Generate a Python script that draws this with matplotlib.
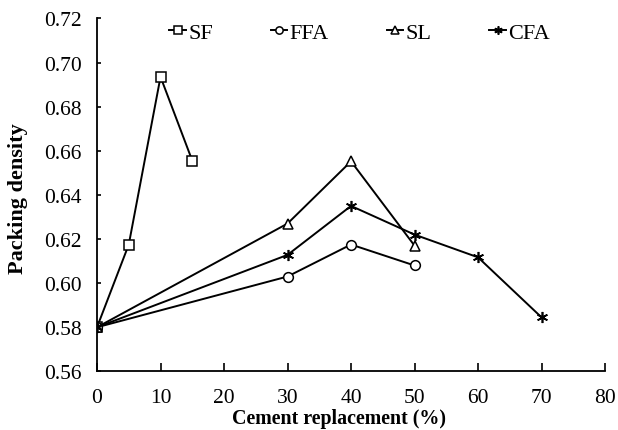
import matplotlib
matplotlib.use('Agg')
import matplotlib.pyplot as plt

# --- DATA ---
sf_x = [0, 5, 10, 15]
sf_y = [0.580, 0.6175, 0.6935, 0.6555]
ffa_x = [0, 30, 40, 50]
ffa_y = [0.580, 0.603, 0.6175, 0.608]
sl_x = [0, 30, 40, 50]
sl_y = [0.580, 0.627, 0.6552, 0.617]
cfa_x = [0, 30, 40, 50, 60, 70]
cfa_y = [0.580, 0.6128, 0.635, 0.622, 0.6117, 0.5845]

plt.rcParams['font.family'] = ['Liberation Serif', 'DejaVu Serif']

fig = plt.figure(figsize=(6.18, 4.31), dpi=100)
ax = fig.add_axes([0.157, 0.136, 0.822, 0.819])

style = dict(color='black', linewidth=1.4, markersize=7, markerfacecolor='white',
             markeredgecolor='black', markeredgewidth=1.1)
ax.plot(sf_x, sf_y, marker='s', label='SF', **style)
ax.plot(ffa_x, ffa_y, marker='o', label='FFA', **style)
ax.plot(sl_x, sl_y, marker='^', label='SL', **style)
ax.plot(cfa_x, cfa_y, marker=(6, 2, 0), label='CFA', color='black', linewidth=1.4,
        markersize=8, markeredgewidth=1.2)

ax.set_xlim(0, 80)
ax.set_ylim(0.56, 0.72)
ax.set_xticks(range(0, 81, 10))
ax.set_yticks([0.56, 0.58, 0.60, 0.62, 0.64, 0.66, 0.68, 0.70, 0.72])
ax.set_yticklabels(['%.2f' % v for v in ax.get_yticks()])

ax.spines['top'].set_visible(False)
ax.spines['right'].set_visible(False)
ax.spines['left'].set_linewidth(1.3)
ax.spines['bottom'].set_linewidth(1.3)
ax.tick_params(axis='both', direction='in', labelsize=15.5, width=1.2)
ax.tick_params(axis='x', length=6, pad=12)
ax.tick_params(axis='y', length=3, pad=11)

ax.set_xlabel('Cement replacement (%)', fontsize=14.4, fontweight='bold')
ax.set_ylabel('Packing density', fontsize=16, fontweight='bold')
ax.xaxis.set_label_coords(0.477, -0.105)
ax.yaxis.set_label_coords(-0.135, 0.493)

ax.legend(loc='upper center', bbox_to_anchor=(0.517, 1.045), ncol=4, frameon=False,
          fontsize=16, handlelength=0.75, handletextpad=0.1, columnspacing=2.6,
          markerscale=0.75)

fig.savefig('out.png', dpi=100)
